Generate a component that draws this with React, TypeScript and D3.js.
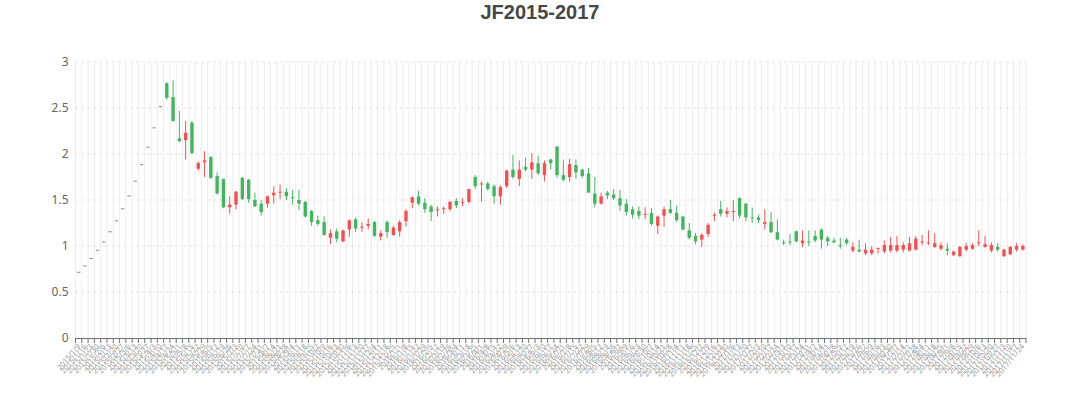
import React from 'react';
import * as d3 from 'd3';

const categories = [
  '2015/1/9','2015/1/16','2015/1/23','2015/1/30','2015/2/6','2015/2/13','2015/2/20','2015/2/27','2015/3/6','2015/3/13','2015/3/20','2015/3/27','2015/4/3','2015/4/10','2015/4/17','2015/4/24','2015/5/1','2015/5/8','2015/5/15','2015/5/22','2015/5/29','2015/6/5','2015/6/12','2015/6/19','2015/6/26','2015/7/3','2015/7/10','2015/7/17','2015/7/24','2015/7/31','2015/8/7','2015/8/14','2015/8/21','2015/8/28','2015/9/4','2015/9/11','2015/9/18','2015/9/25','2015/10/2','2015/10/9','2015/10/16','2015/10/23','2015/10/30','2015/11/6','2015/11/13','2015/11/20','2015/11/27','2015/12/4','2015/12/11','2015/12/18','2015/12/25',
  '2016/1/1','2016/1/8','2016/1/15','2016/1/22','2016/1/29','2016/2/5','2016/2/12','2016/2/19','2016/2/26','2016/3/4','2016/3/11','2016/3/18','2016/3/25','2016/4/1','2016/4/8','2016/4/15','2016/4/22','2016/4/29','2016/5/6','2016/5/13','2016/5/20','2016/5/27','2016/6/3','2016/6/10','2016/6/17','2016/6/24','2016/7/1','2016/7/8','2016/7/15','2016/7/22','2016/7/29','2016/8/5','2016/8/12','2016/8/19','2016/8/26','2016/9/2','2016/9/9','2016/9/16','2016/9/23','2016/9/30','2016/10/7','2016/10/14','2016/10/21','2016/10/28','2016/11/4','2016/11/11','2016/11/18','2016/11/25','2016/12/2','2016/12/9','2016/12/16','2016/12/23','2016/12/30',
  '2017/1/6','2017/1/13','2017/1/20','2017/1/27','2017/2/3','2017/2/10','2017/2/17','2017/2/24','2017/3/3','2017/3/10','2017/3/17','2017/3/24','2017/3/31','2017/4/7','2017/4/14','2017/4/21','2017/4/28','2017/5/5','2017/5/12','2017/5/19','2017/5/26','2017/6/2','2017/6/9','2017/6/16','2017/6/23','2017/6/30','2017/7/7','2017/7/14','2017/7/21','2017/7/28','2017/8/4','2017/8/11','2017/8/18','2017/8/25','2017/9/1','2017/9/8','2017/9/15','2017/9/22','2017/9/29','2017/10/6','2017/10/13','2017/10/20','2017/10/27','2017/11/3','2017/11/10','2017/11/17','2017/11/24'
];

const opens = [
  0.72,0.79,0.87,0.96,1.05,1.16,1.28,1.41,1.55,1.71,1.89,2.08,2.29,2.52,
  2.77,2.62,2.17,2.15,2.34,1.84,1.91,1.97,1.76,1.73,1.42,1.45,1.74,1.72,1.50,1.46,
  1.46,1.55,1.58,1.59,1.53,1.50,1.48,1.38,1.28,1.26,1.09,1.16,1.05,1.18,1.29,1.20,
  1.22,1.26,1.10,1.26,1.12,1.16,1.27,1.47,1.54,1.47,1.43,1.39,1.40,1.40,1.49,1.47,
  1.48,1.75,1.67,1.68,1.65,1.54,1.65,1.83,1.73,1.86,1.83,1.90,1.77,1.94,2.08,1.77,
  1.75,1.88,1.83,1.79,1.57,1.46,1.58,1.56,1.52,1.46,1.40,1.38,1.34,1.36,1.22,1.33,
  1.40,1.36,1.32,1.17,1.11,1.07,1.13,1.33,1.40,1.35,1.37,1.52,1.46,1.31,1.31,1.24,
  1.26,1.15,1.04,1.05,1.16,1.03,1.05,1.11,1.18,1.09,1.06,1.01,1.07,0.95,0.96,0.92,
  0.92,0.97,0.94,0.95,0.95,0.96,0.95,0.96,1.04,1.03,0.99,0.97,0.97,0.90,0.89,0.96,
  0.97,1.03,0.99,0.95,0.99,0.89,0.91,0.96,0.96
];
const closes = [
  0.72,0.79,0.87,0.96,1.05,1.16,1.28,1.41,1.55,1.71,1.89,2.08,2.29,2.52,
  2.61,2.36,2.14,2.23,2.01,1.90,1.93,1.74,1.57,1.42,1.45,1.59,1.51,1.51,1.43,1.37,
  1.54,1.58,1.59,1.54,1.52,1.46,1.32,1.26,1.24,1.12,1.14,1.08,1.17,1.28,1.19,1.21,
  1.24,1.11,1.14,1.15,1.20,1.26,1.38,1.53,1.46,1.40,1.37,1.40,1.41,1.48,1.44,1.48,
  1.62,1.65,1.68,1.62,1.54,1.64,1.82,1.75,1.83,1.83,1.91,1.79,1.90,1.90,1.77,1.72,
  1.89,1.80,1.76,1.58,1.46,1.54,1.55,1.52,1.44,1.37,1.34,1.33,1.35,1.24,1.32,1.40,
  1.36,1.28,1.18,1.09,1.05,1.12,1.23,1.34,1.35,1.38,1.38,1.33,1.31,1.30,1.28,1.26,
  1.15,1.07,1.03,1.04,1.05,1.06,1.04,1.06,1.07,1.05,1.04,1.00,1.03,0.99,0.94,0.96,
  0.96,0.98,1.01,1.01,1.01,1.01,1.03,1.08,1.05,1.04,1.03,1.01,0.95,0.94,0.99,1.00,
  1.01,1.04,1.02,1.01,0.96,0.96,0.99,1.00,1.00
];
const highs = [
  0.72,0.79,0.87,0.96,1.05,1.16,1.28,1.41,1.55,1.71,1.89,2.08,2.29,2.52,
  2.78,2.80,2.47,2.36,2.36,1.92,2.03,1.97,1.80,1.73,1.54,1.60,1.75,1.73,1.58,1.50,
  1.55,1.65,1.67,1.63,1.61,1.61,1.49,1.39,1.33,1.32,1.18,1.19,1.18,1.29,1.31,1.26,
  1.30,1.27,1.17,1.28,1.22,1.28,1.40,1.54,1.60,1.52,1.45,1.43,1.43,1.49,1.52,1.52,
  1.62,1.77,1.70,1.70,1.67,1.66,1.83,1.99,1.93,1.96,2.01,1.98,1.93,1.95,2.09,1.94,
  1.95,1.94,1.84,1.85,1.75,1.58,1.60,1.62,1.61,1.51,1.43,1.43,1.42,1.41,1.33,1.43,
  1.50,1.44,1.33,1.25,1.14,1.14,1.25,1.36,1.49,1.42,1.50,1.53,1.47,1.42,1.34,1.40,
  1.37,1.29,1.07,1.13,1.17,1.17,1.17,1.17,1.19,1.11,1.09,1.09,1.09,1.04,1.07,1.03,
  1.00,0.98,1.06,1.10,1.11,1.04,1.10,1.11,1.12,1.17,1.14,1.04,1.03,0.95,1.00,1.03,
  1.03,1.17,1.11,1.04,1.03,0.97,1.00,1.03,1.02
];
const lows = [
  0.72,0.79,0.87,0.96,1.05,1.16,1.28,1.41,1.55,1.71,1.89,2.08,2.29,2.52,
  2.59,2.35,2.13,1.94,2.00,1.82,1.75,1.73,1.56,1.41,1.35,1.40,1.50,1.47,1.43,1.33,
  1.42,1.46,1.51,1.50,1.45,1.39,1.31,1.22,1.22,1.11,1.02,1.04,1.04,1.10,1.15,1.15,
  1.18,1.10,1.06,1.09,1.11,1.10,1.21,1.41,1.44,1.36,1.27,1.32,1.35,1.38,1.41,1.43,
  1.46,1.62,1.48,1.60,1.46,1.45,1.63,1.73,1.65,1.81,1.73,1.77,1.70,1.83,1.74,1.70,
  1.70,1.73,1.74,1.58,1.42,1.45,1.51,1.50,1.38,1.33,1.30,1.29,1.29,1.22,1.13,1.21,
  1.35,1.26,1.17,1.07,1.02,0.99,1.10,1.27,1.32,1.31,1.27,1.30,1.27,1.25,1.25,1.18,
  1.14,1.06,1.01,1.01,1.04,0.99,1.00,1.04,0.97,1.00,1.03,0.97,1.01,0.93,0.93,0.90,
  0.90,0.92,0.92,0.93,0.93,0.93,0.94,0.95,1.01,1.01,0.98,0.95,0.90,0.89,0.88,0.94,
  0.96,1.00,0.98,0.93,0.94,0.88,0.90,0.94,0.95
];

const yTicks = [0, 0.5, 1, 1.5, 2, 2.5, 3];
const title = 'JF2015-2017';

const UP = '#eb5454';
const DOWN = '#47b262';
const FLAT = '#8a8a8a';

export default function App() {
  const W = 1080, H = 417;
  const left = 75.5, right = 1026, top = 62, bottom = 338;
  const x = d3.scaleBand<string>().domain(categories).range([left, right]).paddingInner(0).paddingOuter(0);
  const y = d3.scaleLinear().domain([0, 3]).range([bottom, top]);
  const bw = x.bandwidth();
  const bodyW = 3.4;
  const boundaries = d3.range(categories.length + 1).map(i => left + i * bw);

  return (
    <svg width={W} height={H} style={{ position: 'absolute', left: 0, top: 0, background: '#fff' }}
      fontFamily="'Noto Sans', 'Open Sans', sans-serif">
      <text x={540} y={19} textAnchor="middle" fontSize={20} fontWeight="bold" fill="#464646"
        fontFamily="'Liberation Sans', Arial, sans-serif">{title}</text>
      {boundaries.map((bx, i) => (
        <line key={'vg' + i} x1={bx} x2={bx} y1={top} y2={bottom} stroke="#ececec" strokeWidth={1} />
      ))}
      {yTicks.map(t => (
        <g key={'yt' + t}>
          {t !== 0 && <line x1={left} x2={right} y1={y(t)} y2={y(t)} stroke="#e3e3e3" strokeDasharray="3,3" />}
          <text x={68.5} y={y(t)} dy="0.35em" textAnchor="end" fontSize={12} fill="#666">{t}</text>
        </g>
      ))}
      <line x1={left} x2={right} y1={bottom + 0.5} y2={bottom + 0.5} stroke="#6e7079" strokeWidth={1} />
      {boundaries.map((bx, i) => (
        <line key={'xt' + i} x1={bx} x2={bx} y1={bottom} y2={bottom + 5} stroke="#6e7079" strokeWidth={1} />
      ))}
      {categories.map((c) => {
        const cx = (x(c) as number) + bw / 2;
        return (
          <text key={'xl' + c} transform={`translate(${cx},${bottom + 7}) rotate(-50)`} textAnchor="end"
            fontSize={7.5} fill="#9a9a9a" dy="0.35em">{c}</text>
        );
      })}
      {categories.map((c, i) => {
        const cx = (x(c) as number) + bw / 2;
        const o = opens[i], cl = closes[i], hi = highs[i], lo = lows[i];
        const color = cl > o ? UP : cl < o ? DOWN : FLAT;
        const yt = y(Math.max(o, cl)), yb = y(Math.min(o, cl));
        const h = Math.max(yb - yt, 1);
        return (
          <g key={'c' + i}>
            {hi !== lo && <line x1={cx} x2={cx} y1={y(hi)} y2={y(lo)} stroke={color} strokeWidth={1} />}
            <rect x={cx - bodyW / 2} y={yt} width={bodyW} height={h} fill={color} />
          </g>
        );
      })}
    </svg>
  );
}
